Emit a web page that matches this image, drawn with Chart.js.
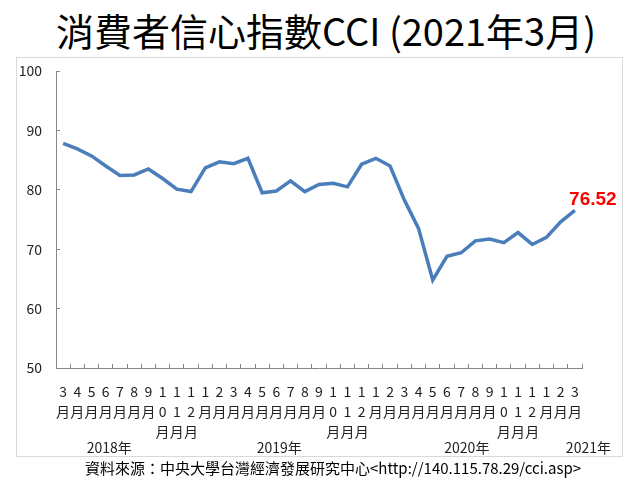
<!DOCTYPE html>
<html>
<head>
<meta charset="utf-8">
<script src="https://cdn.jsdelivr.net/npm/chart.js@4"></script>
<style>
  body { margin: 0; background: #fff; }
  #wrap { position: relative; width: 639px; height: 486px; overflow: hidden; }
  #title {
    position: absolute; left: 326px; top: 6px; transform: translateX(-50%);
    white-space: nowrap; font: 38px/48px "Noto Sans CJK TC", sans-serif; color: #000;
  }
  #frame {
    position: absolute; left: 16px; top: 57px; width: 605px; height: 398px;
    border: 1px solid #d9d9d9;
  }
  #source {
    position: absolute; left: 333px; top: 457px; transform: translateX(-50%);
    white-space: nowrap; font: 15px/21px "Noto Sans CJK TC", sans-serif; color: #000;
  }
  canvas { position: absolute; left: 0; top: 0; }
</style>
</head>
<body>
<div id="wrap">
  <div id="title">消費者信心指數CCI (2021年3月)</div>
  <div id="frame"></div>
  <canvas id="cciChart" width="639" height="486"></canvas>
  <div id="source">資料來源：中央大學台灣經濟發展研究中心&lt;http://140.115.78.29/cci.asp&gt;</div>
</div>
<script>
// month labels, Mar 2018 .. Mar 2021
const monthLabels = [
  '3月', '4月', '5月', '6月', '7月', '8月', '9月', '10月', '11月', '12月',
  '1月', '2月', '3月', '4月', '5月', '6月', '7月', '8月', '9月', '10月', '11月', '12月',
  '1月', '2月', '3月', '4月', '5月', '6月', '7月', '8月', '9月', '10月', '11月', '12月',
  '1月', '2月', '3月'
];
const yearLabels = ['2018年', '2019年', '2020年', '2021年'];

// CCI values
const cciValues = [
  87.8, 86.9, 85.7, 84.0, 82.4, 82.5, 83.5, 81.9, 80.1, 79.7,
  83.7, 84.7, 84.4, 85.3, 79.5, 79.8, 81.5, 79.7, 80.9, 81.1, 80.5, 84.3,
  85.3, 84.0, 78.3, 73.5, 64.8, 68.8, 69.4, 71.4, 71.7, 71.1, 72.8, 70.8,
  72.0, 74.6, 76.52
];

const yTicks = { min: 50, max: 100, step: 10 };

const axisGray = '#868686';
const textColor = '#222';
const baseFont = '"Noto Sans CJK TC", sans-serif';

// year row under the month labels, anchored at fractional category indexes
const yearRow = {
  id: 'yearRow',
  afterDraw(chart) {
    const x = chart.scales.x;
    const at = [3.25, 15.2, 28.4, 36.95];
    const ctx = chart.ctx;
    ctx.save();
    ctx.font = '14px ' + baseFont;
    ctx.fillStyle = textColor;
    ctx.textAlign = 'center';
    ctx.textBaseline = 'middle';
    yearLabels.forEach((t, i) => ctx.fillText(t, x.getPixelForValue(at[i]), 448));
    ctx.restore();
  }
};

// red value label on the latest point
const lastValue = {
  id: 'lastValue',
  afterDatasetsDraw(chart) {
    const pts = chart.getDatasetMeta(0).data;
    const p = pts[pts.length - 1];
    const ctx = chart.ctx;
    ctx.save();
    ctx.font = 'bold 19px "Liberation Sans", sans-serif';
    ctx.fillStyle = '#ff0000';
    ctx.textAlign = 'center';
    ctx.textBaseline = 'middle';
    ctx.fillText(cciValues[cciValues.length - 1].toFixed(2), p.x + 18, p.y - 11);
    ctx.restore();
  }
};

new Chart(document.getElementById('cciChart'), {
  type: 'line',
  data: {
    labels: monthLabels.map(s => s.split('')),
    datasets: [{
      data: cciValues,
      borderColor: '#4a7ebb',
      borderWidth: 3.5,
      pointRadius: 0,
      tension: 0,
      fill: false
    }]
  },
  options: {
    responsive: false,
    animation: false,
    layout: { padding: { top: 71, left: 0, right: 57, bottom: 0 } },
    plugins: {
      legend: { display: false },
      tooltip: { enabled: false }
    },
    scales: {
      x: {
        offset: true,
        grid: {
          offset: true,
          drawOnChartArea: false,
          tickLength: -4,
          color: axisGray
        },
        border: { color: axisGray, width: 1 },
        ticks: {
          autoSkip: false,
          maxRotation: 0,
          padding: 18,
          color: textColor,
          font: { family: baseFont, size: 14, lineHeight: '20px' }
        },
        afterFit(s) { s.height = 118; }
      },
      y: {
        min: yTicks.min,
        max: yTicks.max,
        grid: {
          drawOnChartArea: false,
          tickLength: -4,
          color: axisGray
        },
        border: { color: axisGray, width: 1 },
        ticks: {
          stepSize: yTicks.step,
          padding: 18,
          color: textColor,
          font: { family: baseFont, size: 14 }
        },
        afterFit(s) { s.width = 56; }
      }
    }
  },
  plugins: [yearRow, lastValue]
});
</script>
</body>
</html>
